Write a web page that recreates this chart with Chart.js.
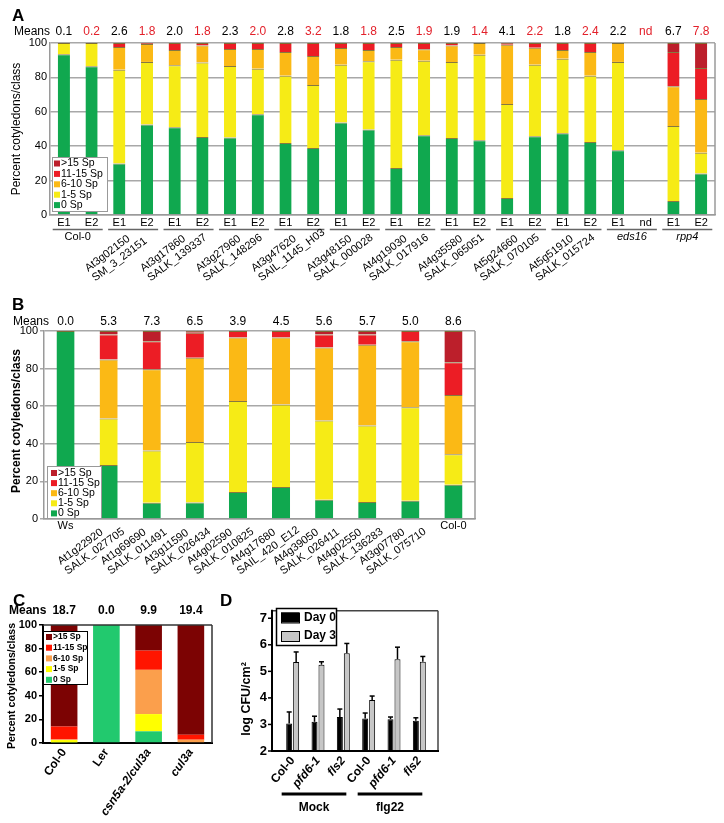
<!DOCTYPE html>
<html>
<head>
<meta charset="utf-8">
<script src="https://cdn.jsdelivr.net/npm/chart.js@4.4.0/dist/chart.umd.min.js"></script>
<style>
  body { margin: 0; background: #fff; width: 724px; height: 823px; position: relative; overflow: hidden; }
  canvas { position: absolute; }
</style>
</head>
<body>
<canvas id="chartA" width="724" height="296" style="left:0;top:0"></canvas>
<canvas id="chartB" width="724" height="294" style="left:0;top:296px"></canvas>
<canvas id="chartC" width="216" height="233" style="left:0;top:590px"></canvas>
<canvas id="chartD" width="230" height="233" style="left:216px;top:590px"></canvas>
<script>
const FONT = 'Arial, "Liberation Sans", Helvetica, sans-serif';

// classes of sporangiophores per cotyledon
const classLabels = ['0 Sp', '1-5 Sp', '6-10 Sp', '11-15 Sp', '>15 Sp'];
const colorsAB = ['#10a84f', '#f6eb16', '#fbb915', '#ec1d25', '#bc1f2b'];
const colorsC = ['#22c96e', '#ffff00', '#fb9f4c', '#ff1500', '#7c0303'];

// ---- panel A
const barsA = ['E1','E2','E1','E2','E1','E2','E1','E2','E1','E2','E1','E2',
               'E1','E2','E1','E2','E1','E2','E1','E2','E1','nd','E1','E2'];
const groupsA1 = ['Col-0','At3g02150','At3g17860','At3g27960','At3g47620','At3g48150',
                  'At4g19030','At4g35580','At5g24660','At5g51910','eds16','rpp4'];
const groupsA2 = ['','SM_3_23151','SALK_139337','SALK_148296','SAIL_1145_H03','SALK_000028',
                  'SALK_017916','SALK_065051','SALK_070105','SALK_015724','',''];
const meansA = ['0.1','0.2','2.6','1.8','2.0','1.8','2.3','2.0','2.8','3.2','1.8','1.8',
                '2.5','1.9','1.9','1.4','4.1','2.2','1.8','2.4','2.2','nd','6.7','7.8'];
const sp0A    = [93.4,86.5,30.0,52.6,51.0,45.3,45.0,58.6,41.8,38.9,53.8,49.7,27.3,46.4,44.7,43.5,9.9,45.8,47.6,42.4,37.7,null,8.1,24.2];
const sp1_5A  = [6.6,13.5,54.5,36.4,36.0,43.3,41.7,26.5,39.1,36.7,33.6,39.7,63.0,43.3,44.3,49.7,54.7,41.6,43.3,38.6,51.3,null,43.7,12.0];
const sp6_10A = [0,0,13.2,10.4,9.0,9.9,9.8,11.4,13.9,16.9,9.7,6.5,7.4,6.6,9.6,6.8,34.4,9.9,5.0,13.8,11.0,null,23.1,31.3];
const sp11_15A= [0,0,2.3,0.6,4.0,1.5,3.5,3.5,5.2,7.5,2.9,4.1,2.3,3.7,1.4,0,1.0,2.7,4.1,5.2,0,null,19.9,18.0];
const sp15A   = [0,0,0,0,0,0,0,0,0,0,0,0,0,0,0,0,0,0,0,0,0,null,5.2,14.5];

// ---- panel B
const linesB1 = ['Ws','At1g22920','At1g69690','At3g11590','At4g02590','At4g17680','At4g39050','At4g02550','At3g07780','Col-0'];
const linesB2 = ['','SALK_027705','SALK_011491','SALK_026434','SALK_010825','SAIL_420_E12','SALK_026411','SALK_136283','SALK_075710',''];
const meansB = ['0.0','5.3','7.3','6.5','3.9','4.5','5.6','5.7','5.0','8.6'];
const sp0B    = [100,28.7,8.7,8.8,14.3,17.0,10.3,9.0,9.7,18.2];
const sp1_5B  = [0,24.8,27.8,32.1,48.4,43.9,42.1,40.7,49.8,16.3];
const sp6_10B = [0,31.3,43.1,44.9,33.9,35.7,38.8,43.0,35.0,31.5];
const sp11_15B= [0,13.4,14.9,13.3,3.4,3.4,7.0,5.5,5.5,17.4];
const sp15B   = [0,1.8,5.5,0.9,0,0,1.8,1.8,0,16.6];

// ---- panel C
const linesC = ['Col-0','Ler','csn5a-2/cul3a','cul3a'];
const meansC = ['18.7','0.0','9.9','19.4'];
const sp0C    = [0.5,100,9.9,0];
const sp1_5C  = [2.0,0,14.6,0];
const sp6_10C = [0.5,0,37.5,2.8];
const sp11_15C= [11.0,0,16.3,4.2];
const sp15C   = [86.0,0,21.7,93.0];

// ---- panel D
const linesD = ['Col-0','pfd6-1','fls2','Col-0','pfd6-1','fls2'];
const treatmentsD = ['Mock','flg22'];
const day0 = [3.04,3.10,3.28,3.22,3.20,3.14];
const day0Err = [0.43,0.21,0.30,0.21,0.08,0.11];
const day3 = [5.35,5.25,5.68,3.92,5.46,5.36];
const day3Err = [0.38,0.11,0.37,0.15,0.45,0.20];

function txt(ctx, s, x, y, o) {
  o = o || {};
  ctx.save();
  ctx.font = o.font || ('11px ' + FONT);
  ctx.fillStyle = o.color || '#000';
  ctx.textAlign = o.align || 'center';
  ctx.textBaseline = o.base || 'middle';
  ctx.translate(x, y);
  if (o.angle) ctx.rotate(o.angle * Math.PI / 180);
  ctx.fillText(s, 0, 0);
  ctx.restore();
}

function line(ctx, x1, y1, x2, y2, color, w) {
  ctx.save();
  ctx.strokeStyle = color; ctx.lineWidth = w;
  ctx.beginPath(); ctx.moveTo(x1, y1); ctx.lineTo(x2, y2); ctx.stroke();
  ctx.restore();
}

function drawLegend(ctx, items, o) {
  ctx.save();
  ctx.fillStyle = '#fff';
  ctx.fillRect(o.x, o.y, o.w, o.h);
  ctx.strokeStyle = o.border; ctx.lineWidth = o.bw;
  ctx.strokeRect(o.x + 0.5, o.y + 0.5, o.w, o.h);
  items.forEach((it, k) => {
    const y = o.y0 + k * o.dy;
    ctx.fillStyle = it.color;
    ctx.fillRect(o.sx, y - o.sh / 2, o.sw, o.sh);
    if (o.swBorder) {
      ctx.strokeStyle = o.swBorder; ctx.lineWidth = 1;
      ctx.strokeRect(o.sx + 0.5, y - o.sh / 2 + 0.5, o.sw, o.sh);
    }
    ctx.fillStyle = '#000'; ctx.font = o.font;
    ctx.textAlign = 'left'; ctx.textBaseline = 'middle';
    ctx.fillText(it.label, o.tx, y);
  });
  ctx.restore();
}

function legendItems(chart) {
  return chart.data.datasets.slice().reverse().map(d => ({ label: d.label, color: d.backgroundColor }));
}

function stackedDatasets(series, colors, barPct, segBorder) {
  return classLabels.map((name, k) => ({
    label: name,
    data: series[k],
    backgroundColor: colors[k],
    borderColor: segBorder || colors[k],
    borderWidth: segBorder ? { top: 1, left: 0, right: 0, bottom: 0 } : 0,
    borderSkipped: false,
    barPercentage: barPct,
    categoryPercentage: 1
  }));
}

const base = {
  responsive: false,
  animation: false,
  devicePixelRatio: 1,
  events: []
};

// ================= A =================
new Chart(document.getElementById('chartA'), {
  type: 'bar',
  data: {
    labels: barsA,
    datasets: stackedDatasets([sp0A, sp1_5A, sp6_10A, sp11_15A, sp15A], colorsAB, 0.44, 'rgba(95,75,0,0.75)')
  },
  options: Object.assign({}, base, {
    layout: { padding: { left: 0, right: 9, top: 43, bottom: 0 } },
    plugins: { legend: { display: false }, tooltip: { enabled: false } },
    scales: {
      x: {
        stacked: true,
        grid: { display: false, drawTicks: false },
        border: { display: true, color: '#9a9a9a', width: 1.5 },
        ticks: { display: false },
        afterFit: s => { s.height = 81; }
      },
      y: {
        stacked: true, min: 0, max: 100,
        grid: { color: '#a8a8a8', lineWidth: 1.5, drawTicks: false },
        border: { display: true, color: '#9a9a9a', width: 1.5 },
        ticks: { stepSize: 20, font: { family: FONT, size: 11 }, color: '#000', padding: 3 },
        afterFit: s => { s.width = 50; }
      }
    }
  }),
  plugins: [{
    id: 'extrasA',
    afterDraw(chart) {
      const ctx = chart.ctx, x = chart.scales.x, a = chart.chartArea;
      line(ctx, a.right, a.top, a.right, a.bottom, '#9a9a9a', 1.5);
      txt(ctx, 'A', 12, 16, { font: 'bold 17px ' + FONT, align: 'left' });
      txt(ctx, 'Means', 14, 32, { font: '12px ' + FONT, align: 'left' });
      meansA.forEach((m, i) => {
        txt(ctx, m, x.getPixelForValue(i), 32, { font: '12px ' + FONT, color: i % 2 ? '#e3202a' : '#000' });
      });
      barsA.forEach((b, i) => {
        txt(ctx, b, x.getPixelForValue(i), 223, { font: '11px ' + FONT });
      });
      txt(ctx, 'Percent cotyledons/class', 17, (a.top + a.bottom) / 2, { font: '12px ' + FONT, angle: -90 });
      groupsA1.forEach((g, k) => {
        const gc = (x.getPixelForValue(2 * k) + x.getPixelForValue(2 * k + 1)) / 2;
        line(ctx, gc - 25, 229.5, gc + 25, 229.5, '#666', 1.5);
        if (groupsA2[k]) {
          const ang = -37, r = ang * Math.PI / 180;
          const sx = gc - 45, sy = 272;
          txt(ctx, g, sx, sy, { align: 'left', base: 'alphabetic', angle: ang });
          txt(ctx, groupsA2[k], sx - 12 * Math.sin(r), sy + 12 * Math.cos(r), { align: 'left', base: 'alphabetic', angle: ang });
        } else {
          txt(ctx, g, gc, 237, { font: (k > 0 ? 'italic ' : '') + '11px ' + FONT });
        }
      });
      drawLegend(ctx, legendItems(chart), {
        x: 52, y: 157, w: 55, h: 54, border: '#999', bw: 1,
        y0: 163.5, dy: 10.4, sx: 54, sw: 6, sh: 6, tx: 61, font: '10.5px ' + FONT
      });
    }
  }]
});

// ================= B =================
new Chart(document.getElementById('chartB'), {
  type: 'bar',
  data: {
    labels: linesB1,
    datasets: stackedDatasets([sp0B, sp1_5B, sp6_10B, sp11_15B, sp15B], colorsAB, 0.42, 'rgba(95,75,0,0.75)')
  },
  options: Object.assign({}, base, {
    layout: { padding: { left: 0, right: 249, top: 35, bottom: 0 } },
    plugins: { legend: { display: false }, tooltip: { enabled: false } },
    scales: {
      x: {
        stacked: true,
        grid: { display: false, drawTicks: false },
        border: { display: true, color: '#9a9a9a', width: 1.5 },
        ticks: { display: false },
        afterFit: s => { s.height = 71; }
      },
      y: {
        stacked: true, min: 0, max: 100,
        grid: { color: '#a8a8a8', lineWidth: 1.5, drawTicks: true, tickLength: 4 },
        border: { display: true, color: '#9a9a9a', width: 1.5 },
        ticks: { stepSize: 20, font: { family: FONT, size: 11 }, color: '#000', padding: 2 },
        afterFit: s => { s.width = 44; }
      }
    }
  }),
  plugins: [{
    id: 'extrasB',
    afterDraw(chart) {
      const ctx = chart.ctx, x = chart.scales.x, a = chart.chartArea;
      line(ctx, a.right, a.top, a.right, a.bottom, '#9a9a9a', 1.5);
      txt(ctx, 'B', 12, 1, { font: 'bold 17px ' + FONT, align: 'left', base: 'top' });
      txt(ctx, 'Means', 13, 26, { font: '12px ' + FONT, align: 'left' });
      meansB.forEach((m, i) => {
        txt(ctx, m, x.getPixelForValue(i), 26, { font: '12px ' + FONT });
      });
      txt(ctx, 'Percent cotyledons/class', 17, (a.top + a.bottom) / 2 - 4, { font: 'bold 12px ' + FONT, angle: -90 });
      linesB1.forEach((g, i) => {
        const bc = x.getPixelForValue(i);
        if (linesB2[i]) {
          const ang = -36, r = ang * Math.PI / 180;
          const sx = bc - 48, sy = 269;
          txt(ctx, g, sx, sy, { align: 'left', base: 'alphabetic', angle: ang });
          txt(ctx, linesB2[i], sx - 12 * Math.sin(r), sy + 12 * Math.cos(r), { align: 'left', base: 'alphabetic', angle: ang });
        } else {
          txt(ctx, g, bc, 230, { font: '11px ' + FONT });
        }
      });
      drawLegend(ctx, legendItems(chart), {
        x: 47, y: 170, w: 54, h: 52, border: '#999', bw: 1,
        y0: 177, dy: 10.1, sx: 51, sw: 6, sh: 6, tx: 58, font: '10.5px ' + FONT
      });
    }
  }]
});

// ================= C =================
new Chart(document.getElementById('chartC'), {
  type: 'bar',
  data: {
    labels: linesC,
    datasets: stackedDatasets([sp0C, sp1_5C, sp6_10C, sp11_15C, sp15C], colorsC, 0.63, null)
  },
  options: Object.assign({}, base, {
    layout: { padding: { left: 0, right: 4, top: 35, bottom: 0 } },
    plugins: { legend: { display: false }, tooltip: { enabled: false } },
    scales: {
      x: {
        stacked: true,
        grid: { display: false, drawTicks: false },
        border: { display: true, color: '#000', width: 2 },
        ticks: {
          color: '#000', padding: 3, minRotation: 55, maxRotation: 55, autoSkip: false,
          font: c => ({ family: FONT, size: 12, weight: 'bold', style: c.index >= 2 ? 'italic' : 'normal' })
        },
        afterFit: s => { s.height = 80; }
      },
      y: {
        stacked: true, min: 0, max: 100,
        grid: { drawOnChartArea: false, color: '#000', lineWidth: 1.5, tickLength: 4 },
        border: { display: true, color: '#000', width: 2 },
        ticks: { stepSize: 20, font: { family: FONT, size: 11, weight: 'bold' }, color: '#000', padding: 2 },
        afterFit: s => { s.width = 43; }
      }
    }
  }),
  plugins: [{
    id: 'extrasC',
    afterDraw(chart) {
      const ctx = chart.ctx, x = chart.scales.x, a = chart.chartArea;
      line(ctx, a.left, a.top, a.right, a.top, '#333', 1.5);
      line(ctx, a.right, a.top, a.right, a.bottom, '#333', 1.5);
      txt(ctx, 'C', 13, 3, { font: 'bold 17px ' + FONT, align: 'left', base: 'top' });
      txt(ctx, 'Means', 9, 21, { font: 'bold 12px ' + FONT, align: 'left' });
      meansC.forEach((m, i) => {
        txt(ctx, m, x.getPixelForValue(i), 21, { font: 'bold 12px ' + FONT });
      });
      txt(ctx, 'Percent cotyledons/class', 12, (a.top + a.bottom) / 2 + 2, { font: 'bold 10.5px ' + FONT, angle: -90 });
      drawLegend(ctx, legendItems(chart), {
        x: 43, y: 41, w: 44, h: 53, border: '#000', bw: 1,
        y0: 47, dy: 10.7, sx: 46, sw: 6, sh: 6, tx: 53, font: 'bold 8.5px ' + FONT
      });
    }
  }]
});

// ================= D =================
new Chart(document.getElementById('chartD'), {
  type: 'bar',
  data: {
    labels: linesD,
    datasets: [
      { label: 'Day 0', data: day0, backgroundColor: '#000', borderColor: '#000', borderWidth: 1,
        borderSkipped: false, barPercentage: 0.86, categoryPercentage: 0.55 },
      { label: 'Day 3', data: day3, backgroundColor: '#c6c6c6', borderColor: '#000', borderWidth: 1,
        borderSkipped: false, barPercentage: 0.86, categoryPercentage: 0.55 }
    ]
  },
  options: Object.assign({}, base, {
    layout: { padding: { left: 0, right: 14, top: 17, bottom: 0 } },
    plugins: { legend: { display: false }, tooltip: { enabled: false } },
    scales: {
      x: {
        grid: { display: false, drawTicks: false },
        border: { display: false },
        ticks: {
          color: '#000', padding: 3, minRotation: 50, maxRotation: 50, autoSkip: false,
          font: c => ({ family: FONT, size: 12, weight: 'bold', style: c.index % 3 === 0 ? 'normal' : 'italic' })
        },
        afterFit: s => { s.height = 72; }
      },
      y: {
        min: 2, max: 7.28,
        grid: { display: false, drawTicks: false },
        border: { display: false },
        ticks: { stepSize: 1, includeBounds: false, font: { family: FONT, size: 13, weight: 'bold' }, color: '#000', padding: 13 },
        afterFit: s => { s.width = 64; }
      }
    }
  }),
  plugins: [{
    id: 'extrasD',
    afterDatasetsDraw(chart) {
      const ctx = chart.ctx, y = chart.scales.y;
      const errs = [day0Err, day3Err];
      chart.data.datasets.forEach((ds, i) => {
        chart.getDatasetMeta(i).data.forEach((el, j) => {
          const top = y.getPixelForValue(ds.data[j] + errs[i][j]);
          line(ctx, el.x, el.y, el.x, top, '#000', 1.5);
          line(ctx, el.x - 2.5, top, el.x + 2.5, top, '#000', 1.5);
        });
      });
    },
    afterDraw(chart) {
      const ctx = chart.ctx, x = chart.scales.x, y = chart.scales.y, a = chart.chartArea;
      const L = a.left - 8, R = a.right + 6;
      line(ctx, L, a.top, R, a.top, '#444', 1.5);
      line(ctx, R, a.top, R, a.bottom, '#444', 1.5);
      line(ctx, L, a.top - 1, L, a.bottom + 1, '#000', 2);
      line(ctx, L - 1, a.bottom, R + 1, a.bottom, '#000', 2);
      y.ticks.forEach(t => {
        const py = y.getPixelForValue(t.value);
        line(ctx, L - 4, py, L, py, '#000', 1.5);
      });
      txt(ctx, 'D', 4, 3, { font: 'bold 17px ' + FONT, align: 'left', base: 'top' });
      txt(ctx, 'log CFU/cm\u00b2', 31, 109, { font: 'bold 12.5px ' + FONT, angle: -90 });
      treatmentsD.forEach((t, k) => {
        const x0 = x.getPixelForValue(3 * k) - 11, x1 = x.getPixelForValue(3 * k + 2) + 3;
        line(ctx, x0, 204, x1, 204, '#000', 3);
        txt(ctx, t, (x0 + x1) / 2, 218, { font: 'bold 12px ' + FONT });
      });
      drawLegend(ctx, chart.data.datasets.map(d => ({ label: d.label, color: d.backgroundColor })), {
        x: 60, y: 18, w: 60, h: 37, border: '#000', bw: 1.5,
        y0: 27.5, dy: 18.5, sx: 65, sw: 18, sh: 10, tx: 88, font: 'bold 12px ' + FONT, swBorder: '#000'
      });
    }
  }]
});
</script>
</body>
</html>
